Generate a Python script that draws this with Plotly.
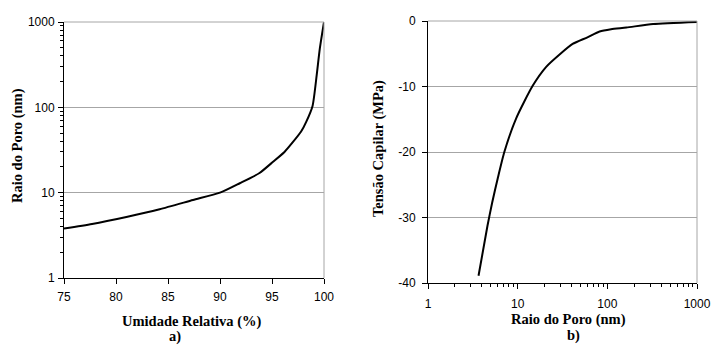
import plotly.graph_objects as go

W, H = 711, 345

# a) pore radius versus relative humidity
umidade = [75, 77.7, 81, 84.2, 87.4, 90, 91.9, 93.8, 95.1, 96.2, 97, 97.8, 98.3, 98.9,
           99.3, 99.6, 100]
raio_a = [3.8, 4.3, 5.2, 6.4, 8.2, 10, 12.9, 17, 23, 30, 39, 52, 68, 104, 240, 490, 1000]

# b) capillary tension versus pore radius
raio_b = [3.66, 4.6, 5.2, 6.0, 7.1, 9.6, 14.7, 20.8, 30, 41, 60, 82, 110, 163, 324, 1000]
tensao = [-38.9, -31.3, -27.7, -24.0, -20.0, -14.9, -9.9, -7.0, -5.0, -3.5, -2.5, -1.6,
          -1.25, -1.0, -0.46, -0.14]

lin_ticks = [-40, -30, -20, -10, 0]
lin_labels = ["-40", "-30", "-20", "-10", "0"]

TICK_FONT = dict(family="Liberation Sans, Arial", size=12, color="#000")
TITLE_FONT = dict(family="Liberation Serif, Times New Roman", size=14.5, color="#000")
GRID = "#a6a6a6"


def px_x(px):
    return px / W


def px_y(py):
    return 1 - py / H


fig = go.Figure()
fig.add_trace(go.Scatter(x=umidade, y=raio_a, mode="lines",
                         line=dict(color="#000", width=2, shape="spline", smoothing=0.6),
                         xaxis="x", yaxis="y"))
fig.add_trace(go.Scatter(x=raio_b, y=tensao, mode="lines",
                         line=dict(color="#000", width=2, shape="spline", smoothing=0.6),
                         xaxis="x2", yaxis="y2"))

common = dict(showline=True, linecolor="#000", linewidth=1, ticks="outside",
              tickcolor="#000", ticklen=5, tickwidth=1, tickfont=TICK_FONT,
              zeroline=False)
# decade ticks with unlabelled 2..9 minor ticks in between
log_axis = dict(type="log", range=[0, 3], dtick=1, exponentformat="none",
                minor=dict(ticks="outside", ticklen=3, tickwidth=1, tickcolor="#000",
                           showgrid=False, dtick="D1"))

fig.update_layout(
    width=W, height=H,
    margin=dict(l=0, r=0, t=0, b=0, autoexpand=False),
    paper_bgcolor="white", plot_bgcolor="white",
    showlegend=False,
    xaxis=dict(domain=[px_x(64), px_x(324)], range=[75, 100], dtick=5,
               showgrid=False, anchor="y", ticklabelstandoff=3, **common),
    yaxis=dict(domain=[px_y(278), px_y(22)], showgrid=True, gridcolor=GRID,
               gridwidth=1, anchor="x", ticklabelstandoff=1, **log_axis, **common),
    xaxis2=dict(domain=[px_x(428), px_x(697)], showgrid=False, anchor="y2",
                ticklabelstandoff=5, **log_axis, **common),
    yaxis2=dict(domain=[px_y(283), px_y(21)], range=[-40, 0],
                tickmode="array", tickvals=lin_ticks, ticktext=lin_labels,
                showgrid=True, gridcolor=GRID, gridwidth=1, anchor="x2",
                ticklabelstandoff=4, **common),
)

# gray frame on the top and right edges of each plot area
for xr, yr in (("x domain", "y domain"), ("x2 domain", "y2 domain")):
    fig.add_shape(type="line", xref=xr, yref=yr, x0=1, x1=1, y0=0, y1=1,
                  line=dict(color=GRID, width=1))
    fig.add_shape(type="line", xref=xr, yref=yr, x0=0, x1=1, y0=1, y1=1,
                  line=dict(color=GRID, width=1))

labels = [
    ("<b>Umidade Relativa (%)</b>", 192, 321, 0),
    ("<b>a)</b>", 175, 336, 0),
    ("<b>Raio do Poro (nm)</b>", 18, 146, -90),
    ("<b>Raio do Poro (nm)</b>", 568, 319, 0),
    ("<b>b)</b>", 573, 335, 0),
    ("<b>Tensão Capilar (MPa)</b>", 378, 148, -90),
]
for text, x, y, ang in labels:
    fig.add_annotation(text=text, x=px_x(x), y=px_y(y), xref="paper", yref="paper",
                       xanchor="center", yanchor="middle", showarrow=False,
                       textangle=ang, font=TITLE_FONT)

fig.write_html("out.html")
